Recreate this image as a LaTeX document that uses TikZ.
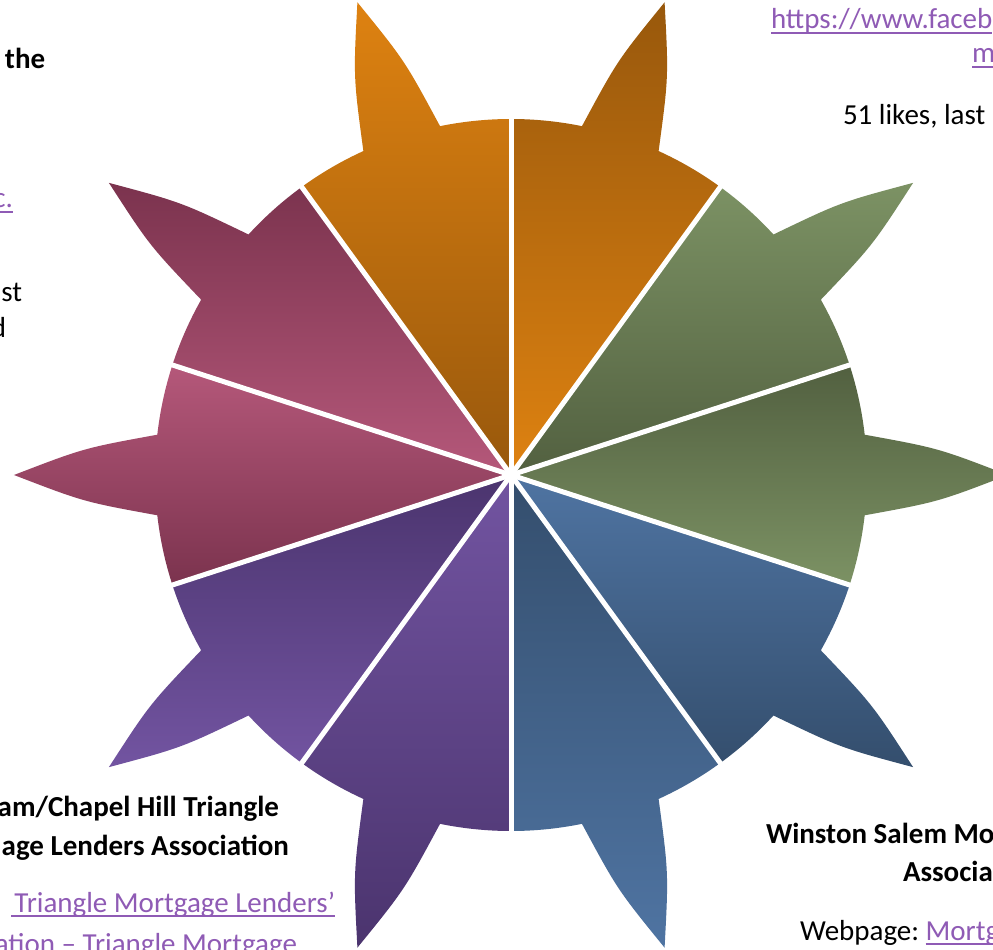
\documentclass[tikz,border=0pt]{standalone}
\usepackage{fontspec}
\setmainfont{Carlito}
\definecolor{orgL}{HTML}{DE8211}
\definecolor{orgD}{HTML}{98580C}
\definecolor{grnL}{HTML}{7C9264}
\definecolor{grnD}{HTML}{526040}
\definecolor{bluL}{HTML}{4F74A2}
\definecolor{bluD}{HTML}{344E6D}
\definecolor{purL}{HTML}{7254A1}
\definecolor{purD}{HTML}{4B346E}
\definecolor{marL}{HTML}{B5587A}
\definecolor{marD}{HTML}{7B334E}
\definecolor{linkpurple}{HTML}{8F5BB5}
\begin{document}
\begin{tikzpicture}[x=1pt,y=1pt,
  txt/.style={inner sep=0pt, outer sep=0pt, font=\fontsize{29pt}{39pt}\selectfont},
  boldtxt/.style={txt, font=\fontsize{29pt}{39pt}\selectfont\bfseries},
  link/.style={txt, text=linkpurple},
  ul/.style={draw=linkpurple, line width=1.5pt},
  gap/.style={draw=white, line width=5pt}]
\useasboundingbox (-511,-475) rectangle (482,475);
\clip (-511,-475) rectangle (482,475);
\fill[white] (-511,-475) rectangle (482,475);

% wedges with spikes
\foreach \c/\ct/\cb in {0/grnD/grnL, 36/grnL/grnD, 72/orgD/orgL, 108/orgL/orgD,
                        144/marD/marL, 180/marL/marD, 216/purD/purL, 252/purL/purD,
                        288/bluD/bluL, 324/bluL/bluD}{
  \shade[top color=\ct, bottom color=\cb]
    (0,0) -- (\c-18:356pt)
    arc[start angle=\c-18, end angle=\c-6.5, radius=356pt]
    .. controls (\c-3.6:428.1pt) .. (\c:497pt)
    .. controls (\c+3.6:428.1pt) .. (\c+6.5:356pt)
    arc[start angle=\c+6.5, end angle=\c+18, radius=356pt]
    -- cycle;
}
% white gaps between wedges
\foreach \a in {18,54,...,342}{
  \draw[gap] (0,0) -- (\a:362pt);
}

% top-left texts
\node[boldtxt, anchor=base west] (t1) at (-506,406) {the};
\node[link, anchor=base east] (t2) at (-498,267) {c.};
\draw[ul] ([yshift=-3.8pt]t2.base west) -- ([yshift=-3.8pt]t2.base east);
\node[txt, anchor=base east] (t3) at (-489,173) {st};
\node[txt, anchor=base east] (t4) at (-505,137) {d};

% top-right texts
\node[link, anchor=base west] (t5) at (260,446) {https://www.faceb};
\draw[ul] ([yshift=-3.8pt]t5.base west) -- ([yshift=-3.8pt]t5.base east);
\node[link, anchor=base west] (t6) at (461,412) {m};
\draw[ul] ([yshift=-3.8pt]t6.base west) -- ([yshift=-3.8pt]t6.base east);
\node[txt, anchor=base west] (t7) at (332,350) {51 likes, last};

% bottom-left texts
\node[boldtxt, anchor=base east] (t8) at (-232,-341) {am/Chapel Hill Triangle};
\node[boldtxt, anchor=base east] (t9) at (-222,-380) {age Lenders Association};
\node[link, anchor=base east] (t10) at (-176,-437) {Triangle Mortgage Lenders’};
\draw[ul] ([xshift=-3pt,yshift=-3.8pt]t10.base west) -- ([yshift=-3.8pt]t10.base east);
\node[link, anchor=base east] (t11) at (-214,-478) {ation – Triangle Mortgage};
\draw[ul] ([yshift=-3.8pt]t11.base west) -- ([yshift=-3.8pt]t11.base east);

% bottom-right texts
\node[boldtxt, anchor=base west] (t12) at (255,-368) {Winston Salem Mo};
\node[boldtxt, anchor=base west] (t13) at (392,-406) {Associa};
\node[txt, anchor=base west] (t14) at (289,-465) {Webpage:};
\node[link, anchor=base west] (t15) at ([xshift=6.5pt]t14.base east) {Mortg};
\draw[ul] ([yshift=-3.8pt]t15.base west) -- ([yshift=-3.8pt]t15.base east);
\end{tikzpicture}
\end{document}
